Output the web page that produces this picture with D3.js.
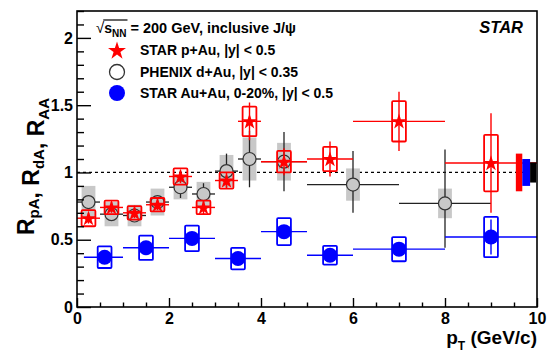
<!DOCTYPE html>
<html>
<head>
<meta charset="utf-8">
<script src="https://cdn.jsdelivr.net/npm/d3@7"></script>
<style>
  body { margin: 0; background: #fff; }
  text { font-family: "Liberation Sans", Arial, sans-serif; font-weight: bold; fill: #000; }
</style>
</head>
<body>
<svg id="chart"></svg>
<script>
// STAR p+Au, |y| < 0.5
const pAuX     = [0.25, 0.75, 1.25, 1.75, 2.25, 2.75, 3.25, 3.75, 4.5, 5.5, 7, 9];
const pAuXlo   = [0, 0.5, 1, 1.5, 2, 2.5, 3, 3.5, 4, 5, 6, 8];
const pAuXhi   = [0.5, 1, 1.5, 2, 2.5, 3, 3.5, 4, 5, 6, 8, 10];
const pAuY     = [0.66, 0.74, 0.70, 0.76, 0.97, 0.74, 0.94, 1.38, 1.08, 1.10, 1.38, 1.07];
const pAuStat  = [0.04, 0.04, 0.04, 0.04, 0.05, 0.05, 0.06, 0.14, 0.10, 0.13, 0.22, 0.37];
const pAuSys   = [0.06, 0.05, 0.05, 0.05, 0.06, 0.05, 0.06, 0.11, 0.08, 0.09, 0.15, 0.21];

// PHENIX d+Au, |y| < 0.35
const dAuX      = [0.25, 0.75, 1.25, 1.75, 2.25, 2.75, 3.25, 3.75, 4.5, 6, 8];
const dAuXlo    = [0, 0.5, 1, 1.5, 2, 2.5, 3, 3.5, 4, 5, 7];
const dAuXhi    = [0.5, 1, 1.5, 2, 2.5, 3, 3.5, 4, 5, 7, 9];
const dAuY      = [0.78, 0.69, 0.68, 0.78, 0.89, 0.84, 1.01, 1.10, 1.08, 0.91, 0.77];
const dAuStatUp = [0.03, 0.03, 0.03, 0.04, 0.08, 0.08, 0.13, 0.21, 0.22, 0.25, 0.40];
const dAuStatDn = [0.03, 0.03, 0.03, 0.04, 0.08, 0.08, 0.13, 0.21, 0.22, 0.21, 0.33];
const dAuSys    = [0.12, 0.09, 0.08, 0.10, 0.09, 0.09, 0.12, 0.16, 0.14, 0.12, 0.11];

// STAR Au+Au, 0-20%, |y| < 0.5
const AuAuX    = [0.6, 1.5, 2.5, 3.5, 4.5, 5.5, 7, 9];
const AuAuXlo  = [0.15, 1, 2, 3, 4, 5, 6, 8];
const AuAuXhi  = [1, 2, 3, 4, 5, 6, 8, 10];
const AuAuY    = [0.37, 0.44, 0.51, 0.36, 0.56, 0.385, 0.43, 0.52];
const AuAuStat = [0.02, 0.02, 0.02, 0.02, 0.03, 0.03, 0.05, 0.13];
const AuAuSys  = [0.08, 0.09, 0.095, 0.08, 0.10, 0.07, 0.09, 0.15];

// global normalisation uncertainties (around 1), drawn at the right edge
const globalLo  = [9.54, 9.68, 9.85];
const globalHi  = [9.68, 9.85, 9.98];
const globalErr = [0.14, 0.10, 0.075];
const globalCol = ["#ff0000", "#0000ff", "#000000"];

const yTicks = [0, 0.5, 1, 1.5, 2];
const xTicks = [0, 2, 4, 6, 8, 10];

const width = 549, height = 356;
const svg = d3.select("#chart").attr("width", width).attr("height", height);

const x = d3.scaleLinear().domain([0, 10]).range([77, 537]);
const y = d3.scaleLinear().domain([0, 2.2]).range([307, 11]);

const RED = "#ff0000", BLUE = "#0000ff", GREY = "#c8c8c8", DARK = "#222";
const boxHalf = 0.15;

// reference line at 1
svg.append("line")
  .attr("x1", x(0)).attr("x2", x(10))
  .attr("y1", y(1)).attr("y2", y(1))
  .style("stroke", "#000").style("stroke-width", 1.3)
  .style("stroke-dasharray", "3,3");

// PHENIX systematic boxes (grey fill)
svg.append("g").selectAll("rect")
  .data(dAuX.map((v, i) => i))
  .join("rect")
  .attr("x", i => x(dAuX[i] - boxHalf))
  .attr("width", i => x(dAuX[i] + boxHalf) - x(dAuX[i] - boxHalf))
  .attr("y", i => y(dAuY[i] + dAuSys[i]))
  .attr("height", i => y(dAuY[i] - dAuSys[i]) - y(dAuY[i] + dAuSys[i]))
  .style("fill", GREY);

// PHENIX error bars
const gD = svg.append("g").style("stroke", DARK).style("stroke-width", 1.3);
dAuX.forEach((v, i) => {
  gD.append("line").attr("x1", x(dAuXlo[i])).attr("x2", x(dAuXhi[i]))
    .attr("y1", y(dAuY[i])).attr("y2", y(dAuY[i]));
  gD.append("line").attr("x1", x(v)).attr("x2", x(v))
    .attr("y1", y(dAuY[i] - dAuStatDn[i])).attr("y2", y(dAuY[i] + dAuStatUp[i]));
});
svg.append("g").selectAll("circle")
  .data(dAuX.map((v, i) => i))
  .join("circle")
  .attr("cx", i => x(dAuX[i])).attr("cy", i => y(dAuY[i])).attr("r", 6.5)
  .style("fill", GREY).style("stroke", "#333").style("stroke-width", 1.2);

// STAR Au+Au
const gA = svg.append("g").style("stroke", BLUE).style("stroke-width", 1.4);
AuAuX.forEach((v, i) => {
  gA.append("rect")
    .attr("x", x(v - boxHalf)).attr("width", x(v + boxHalf) - x(v - boxHalf))
    .attr("y", y(AuAuY[i] + AuAuSys[i]))
    .attr("height", y(AuAuY[i] - AuAuSys[i]) - y(AuAuY[i] + AuAuSys[i]))
    .attr("rx", 1).style("fill", "none").style("stroke-width", 1.8);
  gA.append("line").attr("x1", x(AuAuXlo[i])).attr("x2", x(AuAuXhi[i]))
    .attr("y1", y(AuAuY[i])).attr("y2", y(AuAuY[i]));
  gA.append("line").attr("x1", x(v)).attr("x2", x(v))
    .attr("y1", y(AuAuY[i] - AuAuStat[i])).attr("y2", y(AuAuY[i] + AuAuStat[i]));
});
svg.append("g").selectAll("circle")
  .data(AuAuX.map((v, i) => i))
  .join("circle")
  .attr("cx", i => x(AuAuX[i])).attr("cy", i => y(AuAuY[i])).attr("r", 7.5)
  .style("fill", BLUE);

// STAR p+Au
const gP = svg.append("g").style("stroke", RED).style("stroke-width", 1.4);
pAuX.forEach((v, i) => {
  gP.append("rect")
    .attr("x", x(v - boxHalf)).attr("width", x(v + boxHalf) - x(v - boxHalf))
    .attr("y", y(pAuY[i] + pAuSys[i]))
    .attr("height", y(pAuY[i] - pAuSys[i]) - y(pAuY[i] + pAuSys[i]))
    .attr("rx", 1).style("fill", "none").style("stroke-width", 1.8);
  gP.append("line").attr("x1", x(pAuXlo[i])).attr("x2", x(pAuXhi[i]))
    .attr("y1", y(pAuY[i])).attr("y2", y(pAuY[i]));
  gP.append("line").attr("x1", x(v)).attr("x2", x(v))
    .attr("y1", y(pAuY[i] - pAuStat[i])).attr("y2", y(pAuY[i] + pAuStat[i]));
});
const star = d3.symbol().type(d3.symbolStar).size(76);
svg.append("g").selectAll("path")
  .data(pAuX.map((v, i) => i))
  .join("path")
  .attr("d", star)
  .attr("transform", i => `translate(${x(pAuX[i])},${y(pAuY[i]) + 0.5})`)
  .style("fill", RED);

// global uncertainty boxes
svg.append("g").selectAll("rect")
  .data(globalLo.map((v, i) => i))
  .join("rect")
  .attr("x", i => x(globalLo[i]))
  .attr("width", i => x(globalHi[i]) - x(globalLo[i]))
  .attr("y", i => y(1 + globalErr[i]))
  .attr("height", i => y(1 - globalErr[i]) - y(1 + globalErr[i]))
  .style("fill", i => globalCol[i]);

// axes: ticks point inwards like ROOT
const yAxis = svg.append("g").attr("transform", `translate(${x(0)},0)`)
  .call(d3.axisLeft(y).tickValues(yTicks).tickSizeInner(-14).tickSizeOuter(0)
    .tickPadding(4).tickFormat(d3.format("~g")));
svg.append("g").attr("transform", `translate(${x(0)},0)`)
  .call(d3.axisLeft(y).tickValues(d3.range(0, 2.21, 0.1).filter(v => Math.abs(v * 2 - Math.round(v * 2)) > 1e-6))
    .tickSizeInner(-7).tickSizeOuter(0).tickFormat(""));
const xAxis = svg.append("g").attr("transform", `translate(0,${y(0)})`)
  .call(d3.axisBottom(x).tickValues(xTicks).tickSizeInner(-9).tickSizeOuter(0)
    .tickPadding(6).tickFormat(d3.format("~g")));
svg.append("g").attr("transform", `translate(0,${y(0)})`)
  .call(d3.axisBottom(x).tickValues([1, 3, 5, 7, 9].flatMap(v => [v - 0.5, v, v + 0.5]))
    .tickSizeInner(-4.5).tickSizeOuter(0).tickFormat(""));
svg.selectAll(".domain").remove();
svg.selectAll(".tick line").style("stroke", "#000").style("stroke-width", 1.4);
yAxis.selectAll("text").style("font-size", "16px").style("font-family", null);
xAxis.selectAll("text").style("font-size", "16px").style("font-family", null);

// frame
svg.append("rect")
  .attr("x", x(0)).attr("y", y(2.2))
  .attr("width", x(10) - x(0)).attr("height", y(0) - y(2.2))
  .style("fill", "none").style("stroke", "#000").style("stroke-width", 1.6);

// axis titles
const yt = svg.append("text")
  .attr("transform", "translate(34,98) rotate(-90)")
  .attr("text-anchor", "end").style("font-size", "23px");
[["R", "pA"], [", R", "dA"], [", R", "AA"]].forEach(([main, sub]) => {
  yt.append("tspan").text(main);
  yt.append("tspan").attr("dy", 5).style("font-size", "15px").text(sub);
  yt.append("tspan").attr("dy", -5).text("");
});

const xt = svg.append("text")
  .attr("x", 537).attr("y", 344).attr("text-anchor", "end").style("font-size", "19px");
xt.append("tspan").text("p");
xt.append("tspan").attr("dy", 6).style("font-size", "12px").text("T");
xt.append("tspan").attr("dy", -6).text(" (GeV/c)");

// STAR label
svg.append("text").attr("x", 523).attr("y", 33).attr("text-anchor", "end")
  .style("font-size", "16.5px").style("font-style", "italic").text("STAR");

// header line with sqrt(s_NN)
const root = svg.append("text").attr("x", 96).attr("y", 33).style("font-size", "15px")
  .style("font-weight", "normal").text("\u221A");
const rootW = root.node().getComputedTextLength();
const sNN = svg.append("text").attr("x", 96 + rootW).attr("y", 33).style("font-size", "14px");
sNN.append("tspan").text("s");
sNN.append("tspan").attr("dy", 4).style("font-size", "10px").text("NN");
const sW = sNN.node().getComputedTextLength();
svg.append("line")
  .attr("x1", 96 + rootW - 1).attr("x2", 96 + rootW + sW + 1)
  .attr("y1", 20).attr("y2", 20)
  .style("stroke", "#000").style("stroke-width", 1.2);
svg.append("text").attr("x", 96 + rootW + sW + 4).attr("y", 33).style("font-size", "14.5px")
  .text("= 200 GeV, inclusive J/\u03C8");

// legend
const legendLabels = ["STAR p+Au, |y| < 0.5", "PHENIX d+Au, |y| < 0.35", "STAR Au+Au, 0-20%, |y| < 0.5"];
const legendY = [50, 72, 93];
svg.append("path")
  .attr("d", d3.symbol().type(d3.symbolStar).size(100))
  .attr("transform", `translate(117,${legendY[0] + 1})`).style("fill", RED);
svg.append("circle").attr("cx", 117).attr("cy", legendY[1]).attr("r", 7.5)
  .style("fill", "none").style("stroke", "#333").style("stroke-width", 1.3);
svg.append("circle").attr("cx", 117).attr("cy", legendY[2]).attr("r", 8).style("fill", BLUE);
svg.append("g").selectAll("text")
  .data(legendLabels)
  .join("text")
  .attr("x", 140).attr("y", (d, i) => legendY[i] + 5)
  .style("font-size", "14px")
  .text(d => d);
</script>
</body>
</html>
